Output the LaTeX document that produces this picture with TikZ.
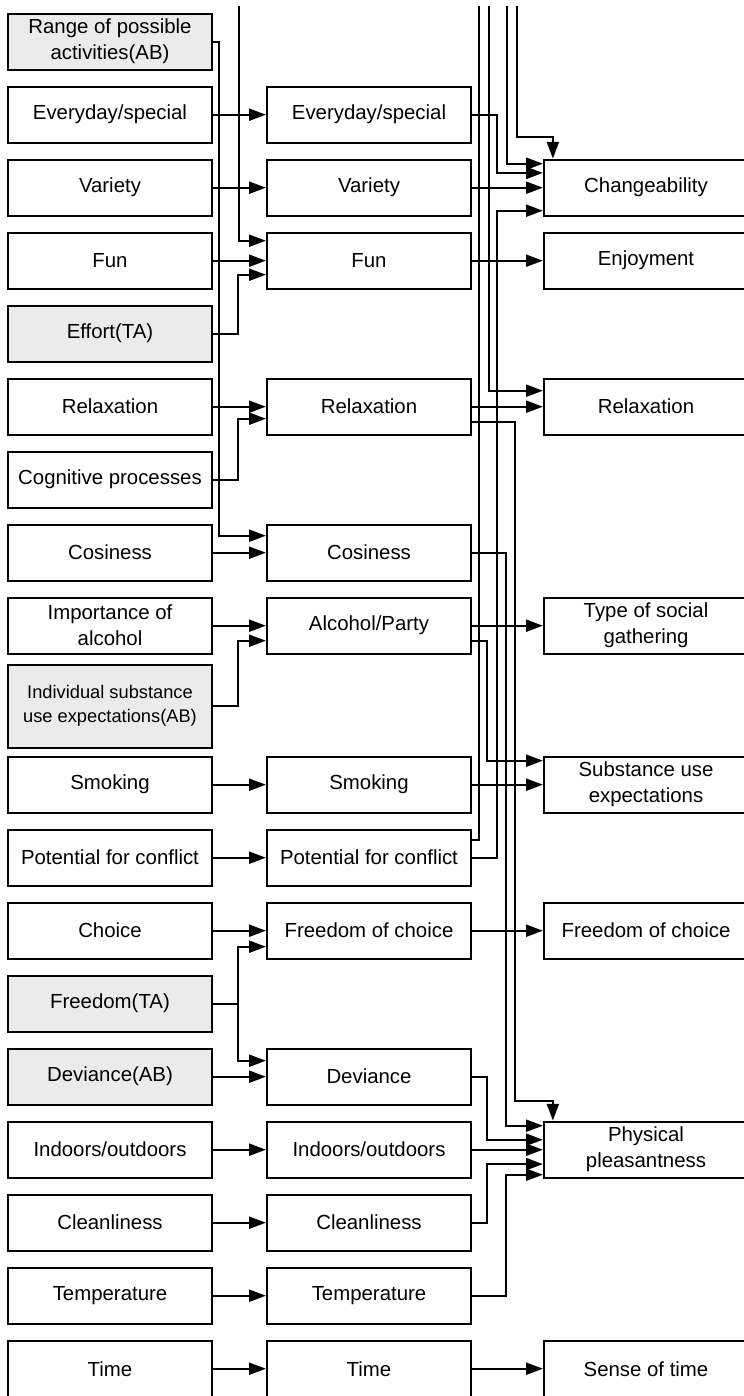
\documentclass[tikz,border=0pt]{standalone}
\usepackage{fontspec}
\setmainfont{Liberation Sans}
\usepackage{tikz}
\usetikzlibrary{positioning,arrows.meta}

\begin{document}
\begin{tikzpicture}[boxnode/.style={rectangle, draw=black, fill=white, line width=1.6pt, minimum width=5.1cm, minimum height=1.4cm, align=center, inner sep=2pt, font=\fontsize{14.5}{18.5}\selectfont},
        shadednode/.style={boxnode, fill=gray!16},
        plainline/.style={line width=1.4pt},
        arrowline/.style={plainline, -{Triangle[length=0.42cm,width=0.3cm]}},
        on grid, node distance=1.825cm]

        \useasboundingbox (0,0) rectangle (18.6,-34.9);
        \clip (0,0) rectangle (18.6,-34.9);

        % first column
        \node[shadednode] (l1) at (2.75,-1.0425) {Range of possible\\activities(AB)};
        \node[boxnode] (l2) [below=of l1] {Everyday/special};
        \node[boxnode] (l3) [below=of l2] {Variety};
        \node[boxnode] (l4) [below=of l3] {Fun};
        \node[shadednode] (l5) [below=of l4] {Effort(TA)};
        \node[boxnode] (l6) [below=of l5] {Relaxation};
        \node[boxnode] (l7) [below=of l6] {Cognitive processes};
        \node[boxnode] (l8) [below=of l7] {Cosiness};
        \node[boxnode] (l9) [below=of l8] {Importance of\\alcohol};
        \node[shadednode, minimum height=2.075cm, font=\fontsize{13}{17}\selectfont] (l10) [below=2.0125cm of l9] {Individual substance\\use expectations(AB)};
        \node[boxnode] (l11) [below=1.9625cm of l10] {Smoking};
        \node[boxnode] (l12) [below=of l11] {Potential for conflict};
        \node[boxnode] (l13) [below=of l12] {Choice};
        \node[shadednode] (l14) [below=of l13] {Freedom(TA)};
        \node[shadednode] (l15) [below=of l14] {Deviance(AB)};
        \node[boxnode] (l16) [below=of l15] {Indoors/outdoors};
        \node[boxnode] (l17) [below=of l16] {Cleanliness};
        \node[boxnode] (l18) [below=of l17] {Temperature};
        \node[boxnode] (l19) [below=of l18] {Time};

        % second column
        \node[boxnode] (m2) [right=6.475cm of l2] {Everyday/special};
        \node[boxnode] (m3) [right=6.475cm of l3] {Variety};
        \node[boxnode] (m4) [right=6.475cm of l4] {Fun};
        \node[boxnode] (m6) [right=6.475cm of l6] {Relaxation};
        \node[boxnode] (m8) [right=6.475cm of l8] {Cosiness};
        \node[boxnode] (m9) [right=6.475cm of l9] {Alcohol/Party};
        \node[boxnode] (m11) [right=6.475cm of l11] {Smoking};
        \node[boxnode] (m12) [right=6.475cm of l12] {Potential for conflict};
        \node[boxnode] (m13) [right=6.475cm of l13] {Freedom of choice};
        \node[boxnode] (m15) [right=6.475cm of l15] {Deviance};
        \node[boxnode] (m16) [right=6.475cm of l16] {Indoors/outdoors};
        \node[boxnode] (m17) [right=6.475cm of l17] {Cleanliness};
        \node[boxnode] (m18) [right=6.475cm of l18] {Temperature};
        \node[boxnode] (m19) [right=6.475cm of l19] {Time};

        % third column
        \node[boxnode] (r3) [right=6.925cm of m3] {Changeability};
        \node[boxnode] (r4) [right=6.925cm of m4] {Enjoyment};
        \node[boxnode] (r6) [right=6.925cm of m6] {Relaxation};
        \node[boxnode] (r9) [right=6.925cm of m9] {Type of social\\gathering};
        \node[boxnode] (r11) [right=6.925cm of m11] {Substance use\\expectations};
        \node[boxnode] (r13) [right=6.925cm of m13] {Freedom of choice};
        \node[boxnode] (r16) [right=6.925cm of m16] {Physical\\pleasantness};
        \node[boxnode] (r19) [right=6.925cm of m19] {Sense of time};

        % lines running in from above
        \coordinate (top1) at (5.975,-0.15);
        \coordinate (top2) at (11.975,-0.15);
        \coordinate (top3) at (12.215,-0.15);
        \coordinate (top4) at (12.685,-0.15);
        \coordinate (top5) at (12.915,-0.15);

        % first to second column
        \draw[arrowline] (l1.east) -| ([xshift=-1.175cm,yshift=0.425cm]m8.west) -- ([yshift=0.425cm]m8.west);
        \draw[arrowline] (l2.east) -- (m2.west);
        \draw[arrowline] (l3.east) -- (m3.west);
        \draw[arrowline] (top1) |- ([yshift=0.5cm]m4.west);
        \draw[arrowline] (l4.east) -- (m4.west);
        \draw[arrowline] (l5.east) -| ([xshift=-0.7cm,yshift=-0.35cm]m4.west) -- ([yshift=-0.35cm]m4.west);
        \draw[arrowline] (l6.east) -- (m6.west);
        \draw[arrowline] (l7.east) -| ([xshift=-0.7cm,yshift=-0.3cm]m6.west) -- ([yshift=-0.3cm]m6.west);
        \draw[arrowline] (l8.east) -- (m8.west);
        \draw[arrowline] (l9.east) -- (m9.west);
        \draw[arrowline] (l10.east) -| ([xshift=-0.7cm,yshift=-0.375cm]m9.west) -- ([yshift=-0.375cm]m9.west);
        \draw[arrowline] (l11.east) -- (m11.west);
        \draw[arrowline] (l12.east) -- (m12.west);
        \draw[arrowline] (l13.east) -- (m13.west);
        \draw[arrowline] (l14.east) -| ([xshift=-0.7cm,yshift=-0.4cm]m13.west) -- ([yshift=-0.4cm]m13.west);
        \draw[arrowline] (l14.east) -| ([xshift=-0.7cm,yshift=0.4cm]m15.west) -- ([yshift=0.4cm]m15.west);
        \draw[arrowline] (l15.east) -- (m15.west);
        \draw[arrowline] (l16.east) -- (m16.west);
        \draw[arrowline] (l17.east) -- (m17.west);
        \draw[arrowline] (l18.east) -- (m18.west);
        \draw[arrowline] (l19.east) -- (m19.west);

        % second to third column
        \draw[plainline] ([yshift=0.45cm]m12.east) -| (top2);
        \draw[arrowline] (top3) |- ([yshift=0.4cm]r6.west);
        \draw[arrowline] (top4) |- ([yshift=0.6cm]r3.west);
        \draw[arrowline] (top5) |- ([xshift=0.25cm,yshift=0.55cm]r3.north west) -- ([xshift=0.25cm]r3.north west);
        \draw[arrowline] (m2.east) -| ([xshift=-1.155cm,yshift=0.37cm]r3.west) -- ([yshift=0.37cm]r3.west);
        \draw[arrowline] (m3.east) -- (r3.west);
        \draw[arrowline] (m12.east) -| ([xshift=-1.155cm,yshift=-0.575cm]r3.west) -- ([yshift=-0.575cm]r3.west);
        \draw[arrowline] (m4.east) -- (r4.west);
        \draw[arrowline] (m6.east) -- (r6.west);
        \draw[arrowline] ([yshift=-0.375cm]m6.east) -| ([xshift=-0.685cm,yshift=0.5cm]r16.north west) -- ([xshift=0.25cm,yshift=0.5cm]r16.north west) -- ([xshift=0.25cm]r16.north west);
        \draw[arrowline] (m8.east) -| ([xshift=-0.915cm,yshift=0.6cm]r16.west) -- ([yshift=0.6cm]r16.west);
        \draw[arrowline] (m9.east) -- (r9.west);
        \draw[arrowline] ([yshift=-0.375cm]m9.east) -| ([xshift=-1.385cm,yshift=0.6cm]r11.west) -- ([yshift=0.6cm]r11.west);
        \draw[arrowline] (m11.east) -- (r11.west);
        \draw[arrowline] (m13.east) -- (r13.west);
        \draw[arrowline] (m15.east) -| ([xshift=-1.385cm,yshift=0.25cm]r16.west) -- ([yshift=0.25cm]r16.west);
        \draw[arrowline] (m16.east) -- (r16.west);
        \draw[arrowline] (m17.east) -| ([xshift=-1.385cm,yshift=-0.36cm]r16.west) -- ([yshift=-0.36cm]r16.west);
        \draw[arrowline] (m18.east) -| ([xshift=-0.915cm,yshift=-0.625cm]r16.west) -- ([yshift=-0.625cm]r16.west);
        \draw[arrowline] (m19.east) -- (r19.west);

\end{tikzpicture}
\end{document}
